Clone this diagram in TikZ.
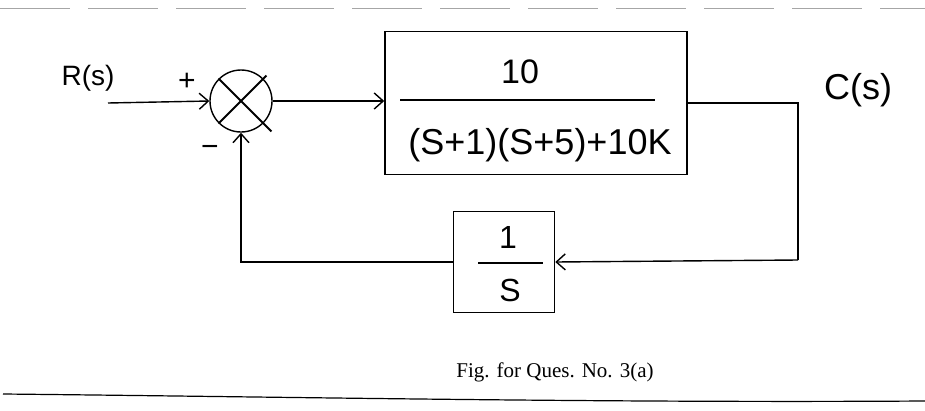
\documentclass[tikz,border=0pt]{standalone}
\usepackage{fontspec}
\setmainfont{Liberation Serif}
\newfontfamily\hand{Liberation Sans}
\usetikzlibrary{arrows.meta,calc}
\begin{document}
\begin{tikzpicture}[x=1pt,y=-1pt,
  wire/.style={line width=1.4pt},
  arr/.style={wire,-{Straight Barb[length=9pt,width=16pt,line width=1.4pt]}},
  blk/.style={draw,line width=1.5pt,inner sep=0pt},
  lbl/.style={font=\hand\fontsize{32}{36}\selectfont,inner sep=0pt},
  sgn/.style={font=\hand\fontsize{30}{32}\selectfont,inner sep=0pt}]
\useasboundingbox (0,0) rectangle (925,410);
% page rules
\draw[gray!70,line width=0.8pt,dash pattern=on 70pt off 18pt] (0,8) -- (925,8);
\draw[line width=1.2pt] (3,394) .. controls (300,397) and (600,403) .. (925,401);
% nodes
\node[draw,circle,line width=1.4pt,minimum size=62pt,inner sep=0pt] (sum) at (241,101) {};
\node[blk,minimum width=302pt,minimum height=143pt] (fwd) at (536,103) {};
\node[blk,minimum width=101pt,minimum height=101pt] (fb) at (504,262) {};
\node[lbl,font=\hand\fontsize{34}{38}\selectfont] (num) at (520,72) {10};
\node[lbl,font=\hand\fontsize{36}{40}\selectfont] (den) at (540,145) {(S+1)(S+5)+10K};
\node[lbl] (one) at (508,237) {1};
\node[lbl] (ess) at (510,290) {S};
\node[lbl,font=\hand\fontsize{28}{32}\selectfont] (R) at (88,78) {R(s)};
\node[lbl,font=\hand\fontsize{36}{40}\selectfont] (C) at (858,90) {C(s)};
\node[sgn] (plus) at (187,82) {+};
\node[sgn] (minus) at (210,151) {−};
\coordinate (rin) at (108,103);
\coordinate (corner) at (798,260);
% fraction bars
\draw[wire] (400,100) -- (655,100);
\draw[wire] (478,263) -- (543,263);
% cross in summing junction
\draw[line width=1.8pt] (sum.north west) -- ($(sum.south east)+(8,8)$);
\draw[line width=1.8pt] (sum.south west) -- ($(sum.north east)+(3,-3)$);
% connectors
\draw[arr] (rin) -- (sum.west);
\draw[arr] (sum.east) -- (sum.east -| fwd.west);
\draw[wire] (fwd.east) -| (corner);
\draw[arr] (corner) -- (fb.east);
\draw[arr] (fb.west) -| (sum.south);
% caption
\node[font=\fontsize{21}{25}\selectfont] (cap) at (555,372) {Fig. for Ques. No. 3(a)};
\end{tikzpicture}
\end{document}
